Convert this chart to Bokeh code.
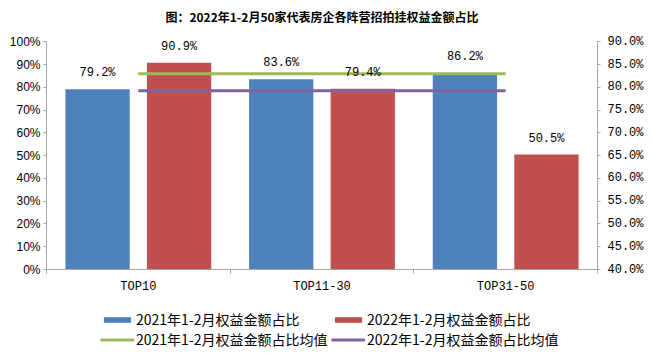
from bokeh.plotting import figure
from bokeh.layouts import column
from bokeh.models import (Range1d, LinearAxis, FixedTicker, PrintfTickFormatter,
                          Legend, LegendItem)
from bokeh.core.properties import value
from bokeh.embed import file_html
from bokeh.resources import INLINE

# ---- data ----
title_text = "图：2022年1-2月50家代表房企各阵营招拍挂权益金额占比"
categories = ["TOP10", "TOP11-30", "TOP31-50"]
share_2021 = [79.2, 83.6, 86.2]
share_2022 = [90.9, 79.4, 50.5]
avg_2021 = 83.0
avg_2022 = 79.3
left_ticks = [0, 10, 20, 30, 40, 50, 60, 70, 80, 90, 100]
right_ticks = [40, 45, 50, 55, 60, 65, 70, 75, 80, 85, 90]
name_2021 = "2021年1-2月权益金额占比"
name_2022 = "2022年1-2月权益金额占比"
name_avg_2021 = "2021年1-2月权益金额占比均值"
name_avg_2022 = "2022年1-2月权益金额占比均值"

BLUE = "#4F81BD"
RED = "#C0504D"
GREEN = "#9BBB59"
PURPLE = "#8064A2"
AXIS = "#A6A6A6"
CJK = "Noto Sans CJK SC"
MONO = "Liberation Mono"

idx = list(range(1, len(categories) + 1))
off = 0.222
bw = 0.35

# frame is a little taller than the axes so the top data label is not clipped;
# axis lines are bounded to the tick span
head = 12.5 / 2.285  # extra room above 100% (in left-axis units)
p = figure(width=652, height=300, x_range=Range1d(0.5, 3.5),
           y_range=Range1d(left_ticks[0], left_ticks[-1] + head),
           output_backend="svg", toolbar_location=None,
           min_border_left=46, min_border_right=55, min_border_top=28, min_border_bottom=31)
p.extra_y_ranges = {"right": Range1d(right_ticks[0], right_ticks[-1] + head / 2)}

p.title.text = title_text
p.title.align = "center"
p.title.text_font = CJK
p.title.text_font_size = "12px"
p.title.text_font_style = "bold"
p.title.text_color = "#000000"

p.outline_line_color = None
p.xgrid.visible = False
p.ygrid.visible = False

# x axis
xa = p.xaxis[0]
xa.ticker = FixedTicker(ticks=idx, minor_ticks=[i - 0.5 for i in idx] + [idx[-1] + 0.5])
xa.major_label_overrides = {i: c for i, c in zip(idx, categories)}
xa.major_tick_line_color = None
xa.minor_tick_in = 0
xa.minor_tick_out = 4
xa.minor_tick_line_color = AXIS
xa.axis_line_color = AXIS
xa.major_label_text_font = MONO
xa.major_label_text_font_size = "12px"
xa.major_label_text_color = "#000000"
xa.major_label_standoff = 4

# left axis
ya = p.yaxis[0]
ya.ticker = FixedTicker(ticks=left_ticks)
ya.bounds = (left_ticks[0], left_ticks[-1])
ya.formatter = PrintfTickFormatter(format="%d%%")
ya.axis_line_color = AXIS
ya.major_tick_line_color = AXIS
ya.major_tick_in = 0
ya.major_tick_out = 3
ya.minor_tick_line_color = None
ya.major_label_text_font = "Liberation Sans"
ya.major_label_text_font_size = "12px"
ya.major_label_text_color = "#000000"
ya.major_label_standoff = 3

# right axis
ra = LinearAxis(y_range_name="right", ticker=FixedTicker(ticks=right_ticks),
                formatter=PrintfTickFormatter(format="%.1f%%"))
ra.bounds = (right_ticks[0], right_ticks[-1])
ra.axis_line_color = AXIS
ra.major_tick_line_color = AXIS
ra.major_tick_in = 0
ra.major_tick_out = 3
ra.minor_tick_line_color = None
ra.major_label_text_font = MONO
ra.major_label_text_font_size = "12px"
ra.major_label_text_color = "#000000"
ra.major_label_standoff = 7
p.add_layout(ra, "right")

# bars
x21 = [i - off for i in idx]
x22 = [i + off for i in idx]
p.vbar(x=x21, top=share_2021, width=bw, fill_color=BLUE, line_color=None)
p.vbar(x=x22, top=share_2022, width=bw, fill_color=RED, line_color=None)

# average lines (secondary axis)
p.line(x=idx, y=[avg_2021] * len(idx), y_range_name="right", line_color=GREEN, line_width=3)
p.line(x=idx, y=[avg_2022] * len(idx), y_range_name="right", line_color=PURPLE, line_width=3)

# data labels
p.text(x=x21, y=share_2021, text=[f"{v}%" for v in share_2021], text_align="center",
       text_baseline="alphabetic", y_offset=-16, text_font=value(MONO),
       text_font_size="12px", text_color="#000000")
p.text(x=x22, y=share_2022, text=[f"{v}%" for v in share_2022], text_align="center",
       text_baseline="alphabetic", y_offset=-16, text_font=value(MONO),
       text_font_size="12px", text_color="#000000")

# ---- legend strip below the chart (same series, drawn out of view) ----
lg = figure(width=652, height=53, x_range=Range1d(100, 101), y_range=Range1d(100, 101),
            x_axis_type=None, y_axis_type=None,
            output_backend="svg", toolbar_location=None, min_border=0,
            min_border_left=0, min_border_right=0, min_border_top=0, min_border_bottom=0)
lg.xgrid.visible = False
lg.ygrid.visible = False
lg.outline_line_color = None
k21 = lg.vbar(x=x21, top=share_2021, width=bw, fill_color=BLUE, line_color=None)
k22 = lg.vbar(x=x22, top=share_2022, width=bw, fill_color=RED, line_color=None)
ka21 = lg.line(x=idx, y=[avg_2021] * len(idx), line_color=GREEN, line_width=3)
ka22 = lg.line(x=idx, y=[avg_2022] * len(idx), line_color=PURPLE, line_width=3)

legend = Legend(items=[LegendItem(label=name_2021, renderers=[k21]),
                       LegendItem(label=name_avg_2021, renderers=[ka21]),
                       LegendItem(label=name_2022, renderers=[k22]),
                       LegendItem(label=name_avg_2022, renderers=[ka22])],
                location=(54, 4), orientation="vertical", ncols=2,
                label_text_font=CJK, label_text_font_size="14px", label_text_color="#000000",
                glyph_width=34, glyph_height=7, label_standoff=2, label_height=19,
                label_width=195, spacing=0, padding=0, margin=0,
                border_line_color=None, background_fill_alpha=0)
lg.add_layout(legend, "center")

open("out.html", "w").write(file_html(column(p, lg, spacing=0), INLINE))
